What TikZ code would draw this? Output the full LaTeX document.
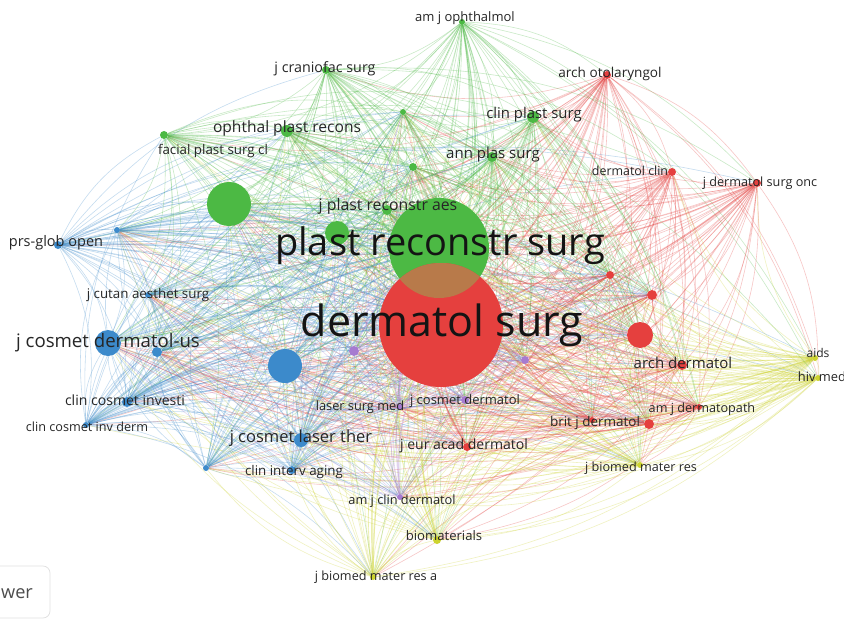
\documentclass[tikz,border=0pt]{standalone}
\usepackage{fontspec}
\setmainfont{Open Sans}
\usetikzlibrary{backgrounds}
\definecolor{cG}{HTML}{4CB944}
\definecolor{cR}{HTML}{E5403E}
\definecolor{cB}{HTML}{3C8ACB}
\definecolor{cY}{HTML}{CDD32E}
\definecolor{cP}{HTML}{A67BD0}
\definecolor{cBr}{HTML}{B87A4A}
\tikzset{
  gn/.style={circle,fill=cG,draw=none,inner sep=0pt,minimum size=#1*0.06cm},
  rn/.style={circle,fill=cR,draw=none,inner sep=0pt,minimum size=#1*0.06cm},
  bn/.style={circle,fill=cB,draw=none,inner sep=0pt,minimum size=#1*0.06cm},
  yn/.style={circle,fill=cY,draw=none,inner sep=0pt,minimum size=#1*0.06cm},
  pn/.style={circle,fill=cP,draw=none,inner sep=0pt,minimum size=#1*0.06cm},
  lab/.style={font=\fontsize{#1}{#1}\selectfont,text=black!85,inner sep=0pt},
  edgeline/.style={line width=0.5pt,opacity=0.3},
  hubline/.style={line width=1.2pt,opacity=0.3},
}
\def\NL{g6/cG,r2/cR,b9/cB,y1/cY,g5/cG,r4/cR,b5/cB,y2/cY,g4/cG,r3/cR,b4/cB,y5/cY,g7/cG,r9/cR,b7/cB,y3/cY,g3/cG,r8/cR,b8/cB,y4/cY,g8/cG,r10/cR,b6/cB,p4/cP,g9/cG,r11/cR,b10/cB,p3/cP,g10/cG,r12/cR,b11/cB,p5/cP,g11/cG,r5/cR,b2/cB,p1/cP,g12/cG,r6/cR,b1/cB,p2/cP,g2/cG,r7/cR,b3/cB,g1/cG,r1/cR}
\def\NS{g6/cG,r2/cR,b9/cB,y1/cY,g5/cG,r4/cR,b5/cB,y2/cY,g4/cG,r3/cR,b4/cB,y5/cY,g7/cG,r9/cR,b7/cB,y3/cY,g3/cG,r8/cR,b8/cB,y4/cY,g8/cG,r10/cR,b6/cB,p4/cP,g9/cG,r11/cR,b10/cB,p3/cP,g10/cG,r12/cR,b11/cB,p5/cP,g11/cG,r5/cR,b2/cB,p1/cP,g12/cG,r6/cR,b1/cB,p2/cP,g2/cG,r7/cR,b3/cB}
\begin{document}
\begin{tikzpicture}[x=0.03cm,y=-0.03cm]
\useasboundingbox (0,0) rectangle (844,621);
% green cluster
\node[gn=50] (g1) at (439,248) {};
\node[gn=22] (g2) at (229,204) {};
\node[gn=6] (g3) at (287,131) {};
\node[gn=4] (g4) at (164,135) {};
\node[gn=4] (g5) at (326,70) {};
\node[gn=3] (g6) at (462,22) {};
\node[gn=6] (g7) at (533,117) {};
\node[gn=5] (g8) at (492,157) {};
\node[gn=5] (g9) at (387,210) {};
\node[gn=3] (g10) at (403,112) {};
\node[gn=4] (g11) at (413,167) {};
\node[gn=12] (g12) at (337,233) {};
% red cluster
\node[rn=62] (r1) at (441,325) {};
\begin{scope}
  \clip (g1.center) circle[radius=50];
  \fill[cBr] (r1.center) circle[radius=62];
\end{scope}
\node[rn=4] (r2) at (607,75) {};
\node[rn=4] (r3) at (672,172) {};
\node[rn=4] (r4) at (757,183) {};
\node[rn=4] (r5) at (610,275) {};
\node[rn=5] (r6) at (652,295) {};
\node[rn=13] (r7) at (640,335) {};
\node[rn=5] (r8) at (682,365) {};
\node[rn=3] (r9) at (699,407) {};
\node[rn=3] (r10) at (592,420) {};
\node[rn=4] (r11) at (467,447) {};
\node[rn=5] (r12) at (649,424) {};
% blue cluster
\node[bn=13] (b1) at (108,343) {};
\node[bn=5] (b2) at (157,352) {};
\node[bn=17] (b3) at (285,366) {};
\node[bn=5] (b4) at (127,402) {};
\node[bn=3] (b5) at (86,425) {};
\node[bn=7] (b6) at (301,440) {};
\node[bn=4] (b7) at (292,470) {};
\node[bn=3] (b8) at (206,468) {};
\node[bn=4] (b9) at (58,245) {};
\node[bn=3] (b10) at (117,230) {};
\node[bn=3] (b11) at (148,295) {};
% purple cluster
\node[pn=5] (p1) at (354,351) {};
\node[pn=4] (p2) at (525,360) {};
\node[pn=3] (p3) at (400,407) {};
\node[pn=3] (p4) at (400,497) {};
\node[pn=4] (p5) at (465,400) {};
% yellow cluster
\node[yn=3] (y1) at (815,358) {};
\node[yn=3] (y2) at (818,378) {};
\node[yn=3] (y3) at (640,465) {};
\node[yn=4] (y4) at (437,540) {};
\node[yn=3] (y5) at (373,577) {};
% edges
\begin{scope}[on background layer]
  \fill[white] (0,0) rectangle (844,621);
  \foreach \a/\ca [count=\i] in \NL {
    \foreach \b/\cb [count=\j] in \NL {
      \ifnum\j>\i
        \draw[edgeline,\ca] (\a) to[bend left=18] (\b);
      \fi
    }
  }
  \foreach \a/\ca in \NS {
    \draw[hubline,\ca] (\a) to[bend left=12] (g1);
    \draw[hubline,\ca] (\a) to[bend left=12] (r1);
  }
  \draw[hubline,cR,line width=2pt] (r1) to[bend left=10] (g1);
\end{scope}
% labels
\node[lab=11.1] (t1) at (465,18) {am j ophthalmol};
\node[lab=12.2] (t2) at (325,69) {j craniofac surg};
\node[lab=13.3] (t3) at (287,128) {ophthal plast recons};
\node[lab=11.4] (t4) at (213,151) {facial plast surg cl};
\node[lab=12.7] (t5) at (534,115) {clin plast surg};
\node[lab=12.8] (t6) at (493,155) {ann plas surg};
\node[lab=13.5] (t7) at (388,206) {j plast reconstr aes};
\node[lab=32.4,text=black!92] (t8) at (440,246) {plast reconstr surg};
\node[lab=36.7,text=black!92] (t9) at (442,325) {dermatol surg};
\node[lab=11.6] (t10) at (610,74) {arch otolaryngol};
\node[lab=10.6] (t11) at (630,171) {dermatol clin};
\node[lab=10.8] (t12) at (760,183) {j dermatol surg onc};
\node[lab=12.8] (t13) at (683,363) {arch dermatol};
\node[lab=10.8] (t14) at (702,409) {am j dermatopath};
\node[lab=11.5] (t15) at (595,423) {brit j dermatol};
\node[lab=12] (t16) at (464,446) {j eur acad dermatol};
\node[lab=11.1] (t17) at (465,401) {j cosmet dermatol};
\node[lab=15.9] (t18) at (108,343) {j cosmet dermatol-us};
\node[lab=12] (t19) at (125,400) {clin cosmet investi};
\node[lab=10.8] (t20) at (87,427) {clin cosmet inv derm};
\node[lab=14.1] (t21) at (301,438) {j cosmet laser ther};
\node[lab=11.4] (t22) at (294,472) {clin interv aging};
\node[lab=12.4] (t23) at (56,243) {prs-glob open};
\node[lab=11.4] (t24) at (148,295) {j cutan aesthet surg};
\node[lab=10.9] (t25) at (360,407) {laser surg med};
\node[lab=10.9] (t26) at (402,501) {am j clin dermatol};
\node[lab=10.3] (t27) at (818,353) {aids};
\node[lab=11] (t28) at (822,377) {hiv med};
\node[lab=10.8] (t29) at (641,468) {j biomed mater res};
\node[lab=11.2] (t30) at (444,536) {biomaterials};
\node[lab=10.8] (t31) at (376,577) {j biomed mater res a};
% cut-off button
\node[draw=black!12,line width=0.6pt,rounded corners=6pt,fill=white,minimum width=4.5cm,minimum height=1.56cm] (vbox) at (-25,592) {};
\node[lab=15.5,text=black!70] (vtxt) at (17,594) {wer};
\end{tikzpicture}
\end{document}
